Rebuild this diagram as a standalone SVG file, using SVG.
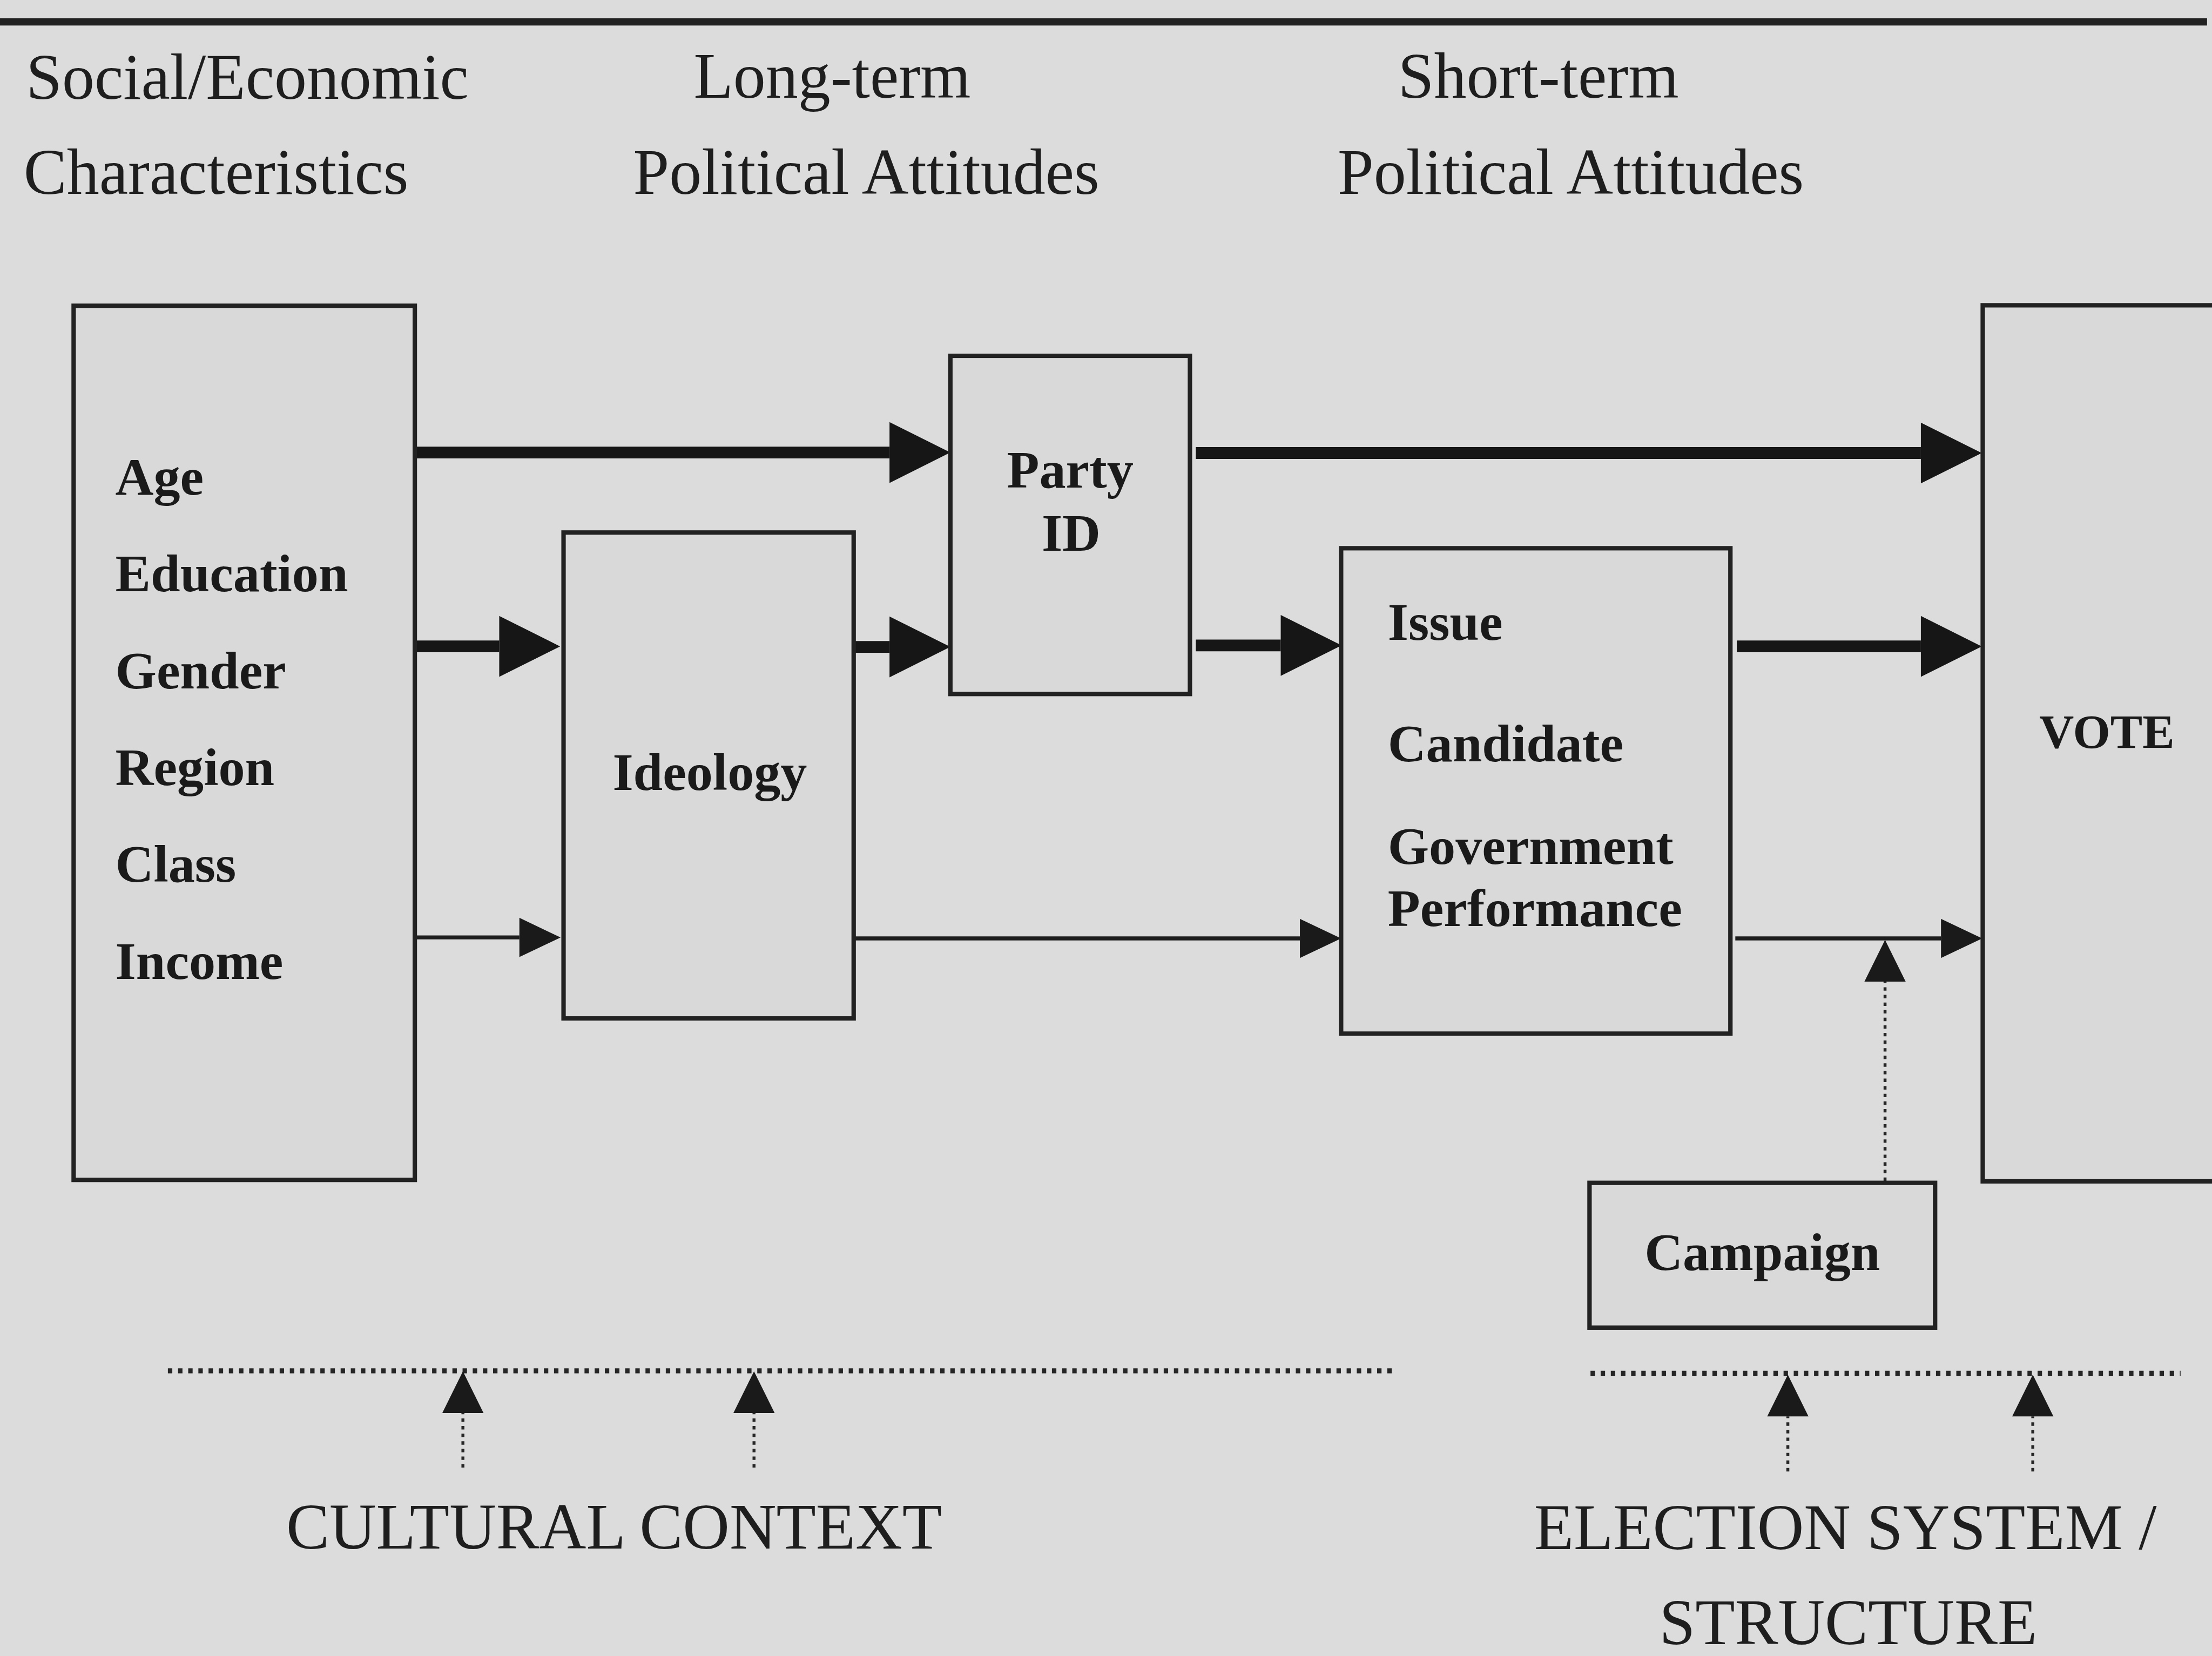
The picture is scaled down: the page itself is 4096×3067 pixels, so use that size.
<svg xmlns="http://www.w3.org/2000/svg" width="4096" height="3067" viewBox="0 0 4096 3067">
  <defs>
    <style>
      .hdr { font-family: "Liberation Serif", "Times New Roman", serif; font-size: 132px; fill: #1e1e1e; }
      .lbl { font-family: "Liberation Serif", "Times New Roman", serif; font-size: 108px; font-weight: bold; fill: #1a1a1a; }
      .box { fill: #d9d9d9; stroke: #222; stroke-width: 9; }
      .thick { stroke: #161616; stroke-width: 24; fill: none; }
      .thin { stroke: #1e1e1e; stroke-width: 8; fill: none; }
      .dots { stroke: #262626; stroke-width: 10; fill: none; stroke-dasharray: 9 11.7; }
      .stem { stroke: #262626; stroke-width: 6; fill: none; stroke-dasharray: 7 8.5; }
    </style>
    <!-- arrowheads start at the line end and point forward -->
    <marker id="headBig" markerUnits="userSpaceOnUse" viewBox="0 -62 124 124" markerWidth="124" markerHeight="124" refX="0" refY="0" orient="auto" overflow="visible">
      <path d="M0,-62 L124,0 L0,62 Z" fill="#161616"/>
    </marker>
    <marker id="headSmall" markerUnits="userSpaceOnUse" viewBox="0 -40 84 80" markerWidth="84" markerHeight="80" refX="0" refY="0" orient="auto" overflow="visible">
      <path d="M0,-40 L84,0 L0,40 Z" fill="#1a1a1a"/>
    </marker>
    <marker id="headUp" markerUnits="userSpaceOnUse" viewBox="0 -42 85 84" markerWidth="85" markerHeight="84" refX="0" refY="0" orient="auto" overflow="visible">
      <path d="M0,-42 L85,0 L0,42 Z" fill="#1a1a1a"/>
    </marker>
  </defs>

  <rect x="0" y="0" width="4096" height="3067" fill="#dcdcdc"/>

  <g transform="scale(0.909)">
    <!-- top rule -->
    <rect x="0" y="37" width="4496" height="15" fill="#222"/>

    <!-- column headings -->
    <g id="headings">
      <text class="hdr" x="53" y="201">Social/Economic</text>
      <text class="hdr" x="48" y="395">Characteristics</text>
      <text class="hdr" x="1413" y="199">Long-term</text>
      <text class="hdr" x="1290" y="395">Political Attitudes</text>
      <text class="hdr" x="2848" y="199">Short-term</text>
      <text class="hdr" x="2725" y="395">Political Attitudes</text>
    </g>

    <!-- connectors -->
    <g id="connectors">
      <!-- thick flows -->
      <path class="thick" d="M846,922 H1812" marker-end="url(#headBig)"/>
      <path class="thick" d="M846,1317 H1017" marker-end="url(#headBig)"/>
      <path class="thick" d="M1742,1318 H1812" marker-end="url(#headBig)"/>
      <path class="thick" d="M2436,1315 H2609" marker-end="url(#headBig)"/>
      <path class="thick" d="M2436,923 H3913" marker-end="url(#headBig)"/>
      <path class="thick" d="M3538,1317 H3913" marker-end="url(#headBig)"/>
      <!-- thin flows -->
      <path class="thin" d="M846,1910 H1058" marker-end="url(#headSmall)"/>
      <path class="thin" d="M1742,1912 H2648" marker-end="url(#headSmall)"/>
      <path class="thin" d="M3535,1912 H3954" marker-end="url(#headSmall)"/>
      <!-- campaign influence -->
      <path class="stem" d="M3840,2406 V2000" marker-end="url(#headUp)"/>
      <!-- context lines -->
      <path class="dots" d="M342,2793 H2840"/>
      <path class="dots" d="M3240,2798 H4442"/>
      <path class="stem" d="M943,2990 V2879" marker-end="url(#headUp)"/>
      <path class="stem" d="M1536,2990 V2879" marker-end="url(#headUp)"/>
      <path class="stem" d="M3642,2998 V2886" marker-end="url(#headUp)"/>
      <path class="stem" d="M4141,2998 V2886" marker-end="url(#headUp)"/>
    </g>

    <g id="node-social">
      <rect class="box" x="150" y="623" width="695" height="1781"/>
      <text class="lbl" x="235" y="1008">Age</text>
      <text class="lbl" x="235" y="1205">Education</text>
      <text class="lbl" x="235" y="1403">Gender</text>
      <text class="lbl" x="235" y="1600">Region</text>
      <text class="lbl" x="235" y="1797">Class</text>
      <text class="lbl" x="235" y="1995">Income</text>
    </g>

    <g id="node-ideology">
      <rect class="box" x="1148" y="1085" width="591" height="990"/>
      <text class="lbl" x="1248" y="1610">Ideology</text>
    </g>

    <g id="node-party">
      <rect class="box" x="1936" y="725" width="488" height="689"/>
      <text class="lbl" x="2180" y="993" text-anchor="middle">Party</text>
      <text class="lbl" x="2182" y="1122" text-anchor="middle">ID</text>
    </g>

    <g id="node-issues">
      <rect class="box" x="2732" y="1117" width="793" height="989"/>
      <text class="lbl" x="2827" y="1304">Issue</text>
      <text class="lbl" x="2827" y="1551">Candidate</text>
      <text class="lbl" x="2827" y="1760">Government</text>
      <text class="lbl" x="2827" y="1887">Performance</text>
    </g>

    <g id="node-vote">
      <rect class="box" x="4039" y="622" width="520" height="1785"/>
      <text class="lbl" x="4154" y="1524" style="font-size:98px">VOTE</text>
    </g>

    <g id="node-campaign">
      <rect class="box" x="3238" y="2410" width="704" height="295"/>
      <text class="lbl" x="3590" y="2588" text-anchor="middle">Campaign</text>
    </g>

    <g id="context-labels">
      <text class="hdr" x="583" y="3155">CULTURAL CONTEXT</text>
      <text class="hdr" x="3125" y="3156">ELECTION SYSTEM /</text>
      <text class="hdr" x="3380" y="3350">STRUCTURE</text>
    </g>
  </g>
</svg>
